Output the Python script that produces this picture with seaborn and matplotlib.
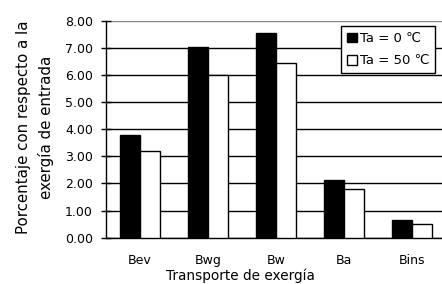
import matplotlib
matplotlib.use("Agg")
import matplotlib.pyplot as plt
import seaborn as sns
import pandas as pd

# Datos
categorias = ["Bev", "Bwg", "Bw", "Ba", "Bins"]
ta_0 = [3.78, 7.03, 7.55, 2.12, 0.66]
ta_50 = [3.20, 6.00, 6.43, 1.80, 0.52]
series = ["Ta = 0 \u2103", "Ta = 50 \u2103"]

sns.set_style("white")
plt.rcParams['font.family'] = ['DejaVu Sans']
plt.rcParams.update({"text.color": "black", "axes.labelcolor": "black",
                     "xtick.color": "black", "ytick.color": "black"})

df = pd.DataFrame({
    "cat": categorias * 2,
    "valor": ta_0 + ta_50,
    "serie": [series[0]] * len(categorias) + [series[1]] * len(categorias),
})

fig = plt.figure(figsize=(4.42, 2.84), dpi=100)
ax = fig.add_axes([0.24, 0.163, 0.769, 0.764])

sns.barplot(data=df, x="cat", y="valor", hue="serie", order=categorias,
            palette=["black", "white"], edgecolor="black", linewidth=1,
            width=0.58, ax=ax, zorder=3)

ax.set_ylim(0, 8)
ax.set_xlim(-0.5, len(categorias) - 0.5)
ax.set_yticks(range(0, 9))
ax.set_yticklabels([f"{v:.2f}" for v in range(0, 9)], fontsize=9)
ax.yaxis.grid(True, color="black", linewidth=1, zorder=0)
ax.get_ygridlines()[-1].set_color("#888888")
ax.set_axisbelow(True)

# ticks del eje x en los limites de categoria
ax.set_xticks([i + 0.5 for i in range(-1, len(categorias))], minor=False)
ax.set_xticklabels([])
ax.set_xticks(range(len(categorias)), minor=True)
ax.set_xticklabels(categorias, minor=True, fontsize=9)
ax.tick_params(axis="x", which="major", direction="inout", length=6, width=1, color="black")
ax.tick_params(axis="x", which="minor", length=0, pad=12, labelcolor="black")
ax.tick_params(axis="y", direction="inout", length=7, width=1, color="black", pad=6,
               left=True, labelcolor="black")

for s in ["top", "right"]:
    ax.spines[s].set_visible(False)
for s in ["left", "bottom"]:
    ax.spines[s].set_color("black")
    ax.spines[s].set_linewidth(1)

ax.set_xlabel("Transporte de exergía", fontsize=9.8, color="black")
ax.xaxis.set_label_coords(0.394, -0.14)
ax.set_ylabel("Porcentaje con respecto a la\nexergía de entrada", fontsize=10.8,
              linespacing=1.6, color="black")
ax.yaxis.set_label_coords(-0.152, 0.51)

leg = ax.legend(loc="upper right", bbox_to_anchor=(0.968, 0.975), fontsize=9.5,
                frameon=True, fancybox=False, edgecolor="black",
                handlelength=0.75, handleheight=0.75, handletextpad=0.2,
                borderpad=0.45, labelspacing=0.7, borderaxespad=0)
leg.get_frame().set_linewidth(1)
leg.get_frame().set_alpha(1)
for t in leg.get_texts():
    t.set_color("black")

fig.savefig("out.png", dpi=100)
